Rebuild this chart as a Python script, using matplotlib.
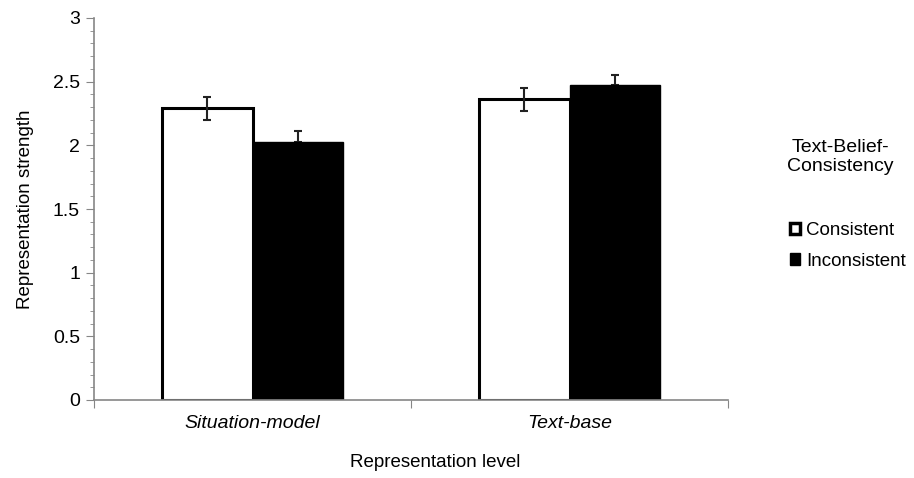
import matplotlib.pyplot as plt
from matplotlib.patches import Patch
from matplotlib.ticker import MultipleLocator
import numpy as np

plt.rcParams['font.family'] = ['Liberation Sans', 'DejaVu Sans']

# data
categories = ['Situation-model', 'Text-base']
consistent = [2.29, 2.36]
consistent_err = [0.09, 0.09]
inconsistent = [2.03, 2.47]
inconsistent_err = [0.08, 0.08]
series_names = ['Consistent', 'Inconsistent']

fig = plt.figure(figsize=(9.14, 4.78), dpi=100)
ax = fig.add_axes([94 / 914, 78 / 478, 634 / 914, 382 / 478])

x = np.arange(len(categories))
w = 0.286
grey = '#868686'

ax.bar(x - w / 2, consistent, w, color='white', edgecolor='black', linewidth=2.2, zorder=2)
ax.bar(x + w / 2, inconsistent, w, color='black', edgecolor='black', linewidth=1, zorder=2)
ax.errorbar(x - w / 2, consistent, yerr=consistent_err, fmt='none', ecolor='#222222',
            elinewidth=1.5, capsize=3, capthick=1.5, zorder=3)
# lower half disappears into the black bar
ax.errorbar(x + w / 2, inconsistent, yerr=[np.zeros(len(x)), inconsistent_err], fmt='none',
            ecolor='#222222', elinewidth=1.5, capsize=3, capthick=1.5, zorder=1)

# axes look
ax.set_xlim(-0.5, len(categories) - 0.5)
ax.set_ylim(0, 3)
for s in ['top', 'right']:
    ax.spines[s].set_visible(False)
for s in ['left', 'bottom']:
    ax.spines[s].set_color(grey)
    ax.spines[s].set_linewidth(1.2)
    ax.spines[s].set_zorder(4)

ax.yaxis.set_minor_locator(MultipleLocator(0.1))
ax.set_yticks([0, 0.5, 1, 1.5, 2, 2.5, 3])
ax.set_yticklabels(['0', '0.5', '1', '1.5', '2', '2.5', '3'])
ax.tick_params(axis='y', which='major', length=6, color=grey, labelsize=14, pad=4)
ax.tick_params(axis='y', which='minor', length=3, color=grey)

ax.set_xticks(np.arange(len(categories) + 1) - 0.5)
ax.set_xticklabels([])
ax.set_xticks(x, minor=True)
ax.set_xticklabels(categories, minor=True, style='italic', fontsize=14)
ax.tick_params(axis='x', which='major', length=6, color=grey)
ax.tick_params(axis='x', which='minor', length=0, pad=11)

ax.set_ylabel('Representation strength', fontsize=13.5, labelpad=14)
ax.set_xlabel('Representation level', fontsize=13.5)
ax.xaxis.set_label_coords((435 - 94) / 634, -(454 - 400) / 382)

# legend
fig.text(840 / 914, 1 - 157 / 478, 'Text-Belief-\nConsistency', ha='center', va='center',
         fontsize=14, linespacing=1.2)
handles = [Patch(facecolor='white', edgecolor='black', linewidth=2.5),
           Patch(facecolor='black', edgecolor='black')]
fig.legend(handles, series_names, loc='center left', bbox_to_anchor=(790 / 914, 1 - 246 / 478),
           frameon=False, fontsize=13.5, handlelength=0.55, handleheight=0.55,
           handletextpad=0.3, labelspacing=0.7, borderpad=0, borderaxespad=0)

fig.savefig('out.png', dpi=100)
